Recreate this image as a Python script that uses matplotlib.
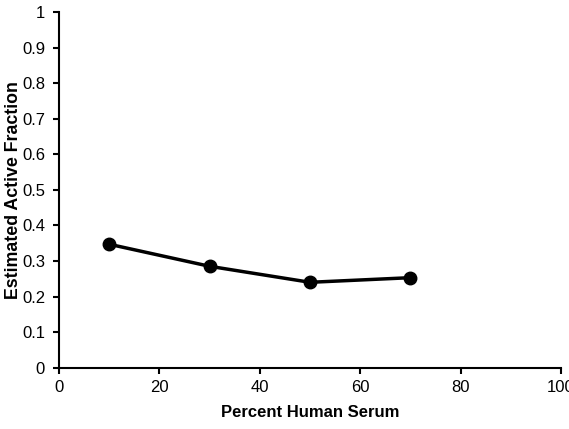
import matplotlib
matplotlib.use("Agg")
import matplotlib.pyplot as plt

percent_serum = [10, 30, 50, 70]
active_fraction = [0.347, 0.285, 0.240, 0.253]
x_ticks = [0, 20, 40, 60, 80, 100]
y_ticks = [0, 0.1, 0.2, 0.3, 0.4, 0.5, 0.6, 0.7, 0.8, 0.9, 1]
y_tick_labels = ["0", "0.1", "0.2", "0.3", "0.4", "0.5", "0.6", "0.7", "0.8", "0.9", "1"]

plt.rcParams['font.family'] = ['Liberation Sans', 'DejaVu Sans']

fig = plt.figure(figsize=(5.69, 4.29), dpi=100)
ax = fig.add_axes([0.1037, 0.143, 0.8823, 0.829])

ax.plot(percent_serum, active_fraction, color='black', linewidth=2.5,
        marker='o', markersize=9, clip_on=False)

ax.set_xlim(0, 100)
ax.set_ylim(0, 1)
ax.set_xticks(x_ticks)
ax.set_yticks(y_ticks)
ax.set_yticklabels(y_tick_labels)

for s in ['top', 'right']:
    ax.spines[s].set_visible(False)
for s in ['left', 'bottom']:
    ax.spines[s].set_linewidth(1.5)
    ax.spines[s].set_color('black')

ax.tick_params(axis='both', direction='out', length=4, width=1.5, labelsize=12, colors='black')
ax.tick_params(axis='x', pad=5)
ax.tick_params(axis='y', pad=6)

ax.set_xlabel('Percent Human Serum', fontsize=12, fontweight='bold', labelpad=7)
ax.set_ylabel('Estimated Active Fraction', fontsize=12.8, fontweight='bold', labelpad=0)

fig.savefig('out.png', dpi=100)
